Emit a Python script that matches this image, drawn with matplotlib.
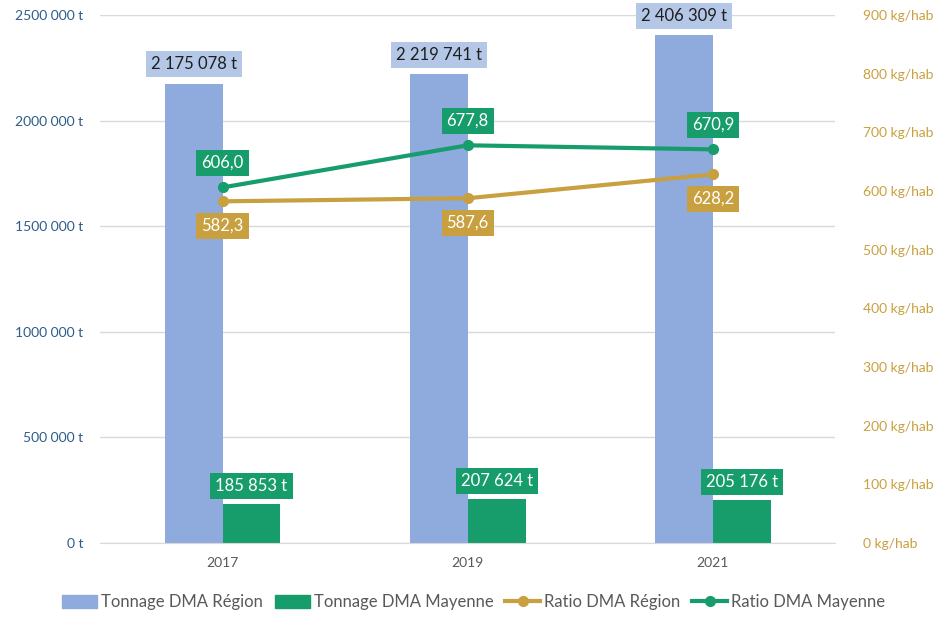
import matplotlib
matplotlib.use("Agg")
import matplotlib.pyplot as plt
import numpy as np
from matplotlib.lines import Line2D
from matplotlib.patches import Patch

years = ["2017", "2019", "2021"]
tonnage_region = [2175078, 2219741, 2406309]
tonnage_mayenne = [185853, 207624, 205176]
ratio_region = [582.3, 587.6, 628.2]
ratio_mayenne = [606.0, 677.8, 670.9]

left_ticks = [0, 500000, 1000000, 1500000, 2000000, 2500000]
left_ticklabels = ["0 t", "500 000 t", "1000 000 t", "1500 000 t", "2000 000 t", "2500 000 t"]
right_ticks = [0, 100, 200, 300, 400, 500, 600, 700, 800, 900]
right_ticklabels = [f"{v} kg/hab" for v in right_ticks]

def fmt_t(v):
    s = f"{v:,}".replace(",", " ")
    return s + " t"

def fmt_r(v):
    return f"{v:.1f}".replace(".", ",")

plt.rcParams['font.family'] = ['Lato', 'DejaVu Sans']

BLUE = "#8FAADC"
BLUE_LBL = "#B4C7E7"
GREEN = "#179C6C"
GOLD = "#C9A03F"
AXBLUE = "#2E5C8A"
GRAY = "#595959"

fig = plt.figure(figsize=(9.38, 6.22), dpi=100)
ax = fig.add_axes([0.1066, 0.127, 0.784, 0.849])
ax2 = ax.twinx()

x = np.arange(len(years))
w = 0.236
ax.bar(x - w/2, tonnage_region, width=w, color=BLUE, zorder=2)
ax.bar(x + w/2, tonnage_mayenne, width=w, color=GREEN, zorder=2)

ax.set_xlim(-0.5, 2.5)
ax.set_ylim(0, 2500000)
ax.set_yticks(left_ticks)
ax.set_yticklabels(left_ticklabels, color=AXBLUE, fontsize=10)
ax.set_xticks(x)
ax.set_xticklabels(years, color=GRAY, fontsize=10)
ax.grid(axis='y', color="#D9D9D9", lw=1, zorder=0)
ax.set_axisbelow(True)
for s in ["top", "right", "left"]:
    ax.spines[s].set_visible(False)
    ax2.spines[s].set_visible(False)
ax2.spines["bottom"].set_visible(False)
ax.spines["bottom"].set_color("#D9D9D9")
ax.tick_params(axis='both', length=0)
ax.tick_params(axis='x', pad=10)
ax.tick_params(axis='y', pad=12)

ax2.set_ylim(0, 900)
ax2.set_yticks(right_ticks)
ax2.set_yticklabels(right_ticklabels, color=GOLD, fontsize=10)
ax2.tick_params(axis='y', length=0, pad=20)

ax2.plot(x, ratio_region, color=GOLD, lw=3, marker='o', ms=7, zorder=3)
ax2.plot(x, ratio_mayenne, color=GREEN, lw=3, marker='o', ms=7, zorder=3)

for i in range(len(years)):
    ax.annotate(fmt_t(tonnage_region[i]), (x[i] - w/2, tonnage_region[i]),
                xytext=(0, 8), textcoords='offset points', ha='center', va='bottom',
                fontsize=12, color="#1F1F1F",
                bbox=dict(boxstyle='square,pad=0.3', fc=BLUE_LBL, ec='none'))
    ax.annotate(fmt_t(tonnage_mayenne[i]), (x[i] + w/2, tonnage_mayenne[i]),
                xytext=(0, 7), textcoords='offset points', ha='center', va='bottom',
                fontsize=12, color="white",
                bbox=dict(boxstyle='square,pad=0.3', fc=GREEN, ec='none'))
    ax2.annotate(fmt_r(ratio_mayenne[i]), (x[i], ratio_mayenne[i]),
                 xytext=(0, 12), textcoords='offset points', ha='center', va='bottom',
                 fontsize=12, color="white",
                 bbox=dict(boxstyle='square,pad=0.3', fc=GREEN, ec='none'), zorder=4)
    ax2.annotate(fmt_r(ratio_region[i]), (x[i], ratio_region[i]),
                 xytext=(0, -12), textcoords='offset points', ha='center', va='top',
                 fontsize=12, color="white",
                 bbox=dict(boxstyle='square,pad=0.3', fc=GOLD, ec='none'), zorder=4)

handles = [Patch(color=BLUE, label="Tonnage DMA Région"),
           Patch(color=GREEN, label="Tonnage DMA Mayenne"),
           Line2D([], [], color=GOLD, lw=3, marker='o', ms=7, label="Ratio DMA Région"),
           Line2D([], [], color=GREEN, lw=3, marker='o', ms=7, label="Ratio DMA Mayenne")]
fig.legend(handles=handles, loc='center', bbox_to_anchor=(0.505, 0.032), ncol=4,
           frameon=False, fontsize=12, labelcolor=GRAY, handlelength=2.1,
           handletextpad=0.25, columnspacing=0.7, handleheight=0.8)

fig.savefig("out.png", dpi=100)
